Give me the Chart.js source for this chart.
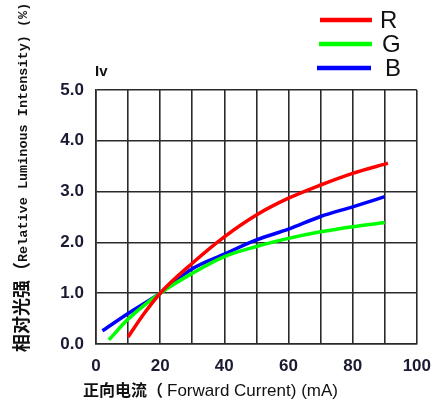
<!DOCTYPE html>
<html>
<head>
<meta charset="utf-8">
<script src="https://cdn.jsdelivr.net/npm/chart.js@4.4.1/dist/chart.umd.min.js"></script>
<style>
  html, body { margin: 0; padding: 0; background: #ffffff; }
  #wrap { width: 443px; height: 408px; }
</style>
</head>
<body>
<div id="wrap"><canvas id="c" width="443" height="408"></canvas></div>
<script>
// ---- Data ----
const seriesNames = ['R', 'G', 'B'];
const redX   = [10, 15, 20, 30, 40, 50, 60, 70, 80, 91];
const redY   = [0.14, 0.60, 1.00, 1.59, 2.11, 2.54, 2.87, 3.13, 3.36, 3.56];
const greenX = [4, 10, 20, 30, 40, 50, 60, 70, 80, 90];
const greenY = [0.08, 0.49, 1.00, 1.39, 1.72, 1.92, 2.08, 2.21, 2.31, 2.39];
const blueX  = [2, 10, 20, 30, 40, 50, 60, 70, 80, 90];
const blueY  = [0.26, 0.60, 1.00, 1.48, 1.77, 2.05, 2.26, 2.51, 2.70, 2.90];
const xTickLabels = ['0', '20', '40', '60', '80', '100'];
const yTickLabels = ['0.0', '1.0', '2.0', '3.0', '4.0', '5.0'];

const colors = ['#ff0000', '#00ff00', '#0000ff'];
const pts = (xs, ys) => xs.map((x, i) => ({ x: x, y: ys[i] }));

const textColor = '#1a1a33';

const decor = {
  id: 'decor',
  afterDraw(chart) {
    const ctx = chart.ctx;
    ctx.save();
    ctx.fillStyle = '#111111';
    // "Iv" unit label
    ctx.font = 'bold 15px "Liberation Sans", Arial, sans-serif';
    ctx.textAlign = 'left';
    ctx.textBaseline = 'middle';
    ctx.fillText('Iv', 95, 72);

    // Legend
    const legY = [20, 44, 68];
    const legX0 = [320, 319, 317];
    const legX1 = [372, 372, 371];
    const legTX = [380, 382, 385];
    ctx.font = '24px "Liberation Sans", Arial, sans-serif';
    for (let i = 0; i < 3; i++) {
      ctx.strokeStyle = colors[i];
      ctx.lineWidth = 4.5;
      ctx.beginPath();
      ctx.moveTo(legX0[i], legY[i]);
      ctx.lineTo(legX1[i], legY[i]);
      ctx.stroke();
      ctx.fillStyle = '#111111';
      ctx.textBaseline = 'middle';
      ctx.fillText(seriesNames[i], legTX[i], legY[i] + 1);
    }

    // X axis title
    ctx.textBaseline = 'alphabetic';
    ctx.fillStyle = '#111111';
    ctx.font = 'bold 16px "Noto Sans CJK SC", sans-serif';
    ctx.fillText('正向电流（', 83, 396);
    ctx.font = '17px "Liberation Sans", Arial, sans-serif';
    ctx.fillText('Forward Current) (mA)', 167, 396);

    // Y axis title (rotated)
    ctx.translate(28, 352);
    ctx.rotate(-Math.PI / 2);
    ctx.font = 'bold 18px "Noto Sans CJK SC", sans-serif';
    ctx.fillText('相对光强（', 0, 0);
    ctx.font = 'bold 13.5px "Liberation Mono", "DejaVu Sans Mono", monospace';
    ctx.fillText('Relative Luminous Intensity) (%)', 90, -1);
    ctx.restore();
  }
};

new Chart(document.getElementById('c'), {
  type: 'line',
  data: {
    datasets: [
      { label: seriesNames[0], data: pts(redX, redY), borderColor: colors[0] },
      { label: seriesNames[1], data: pts(greenX, greenY), borderColor: colors[1] },
      { label: seriesNames[2], data: pts(blueX, blueY), borderColor: colors[2] }
    ].map(d => Object.assign(d, {
      borderWidth: 3.5, pointRadius: 0, fill: false,
      cubicInterpolationMode: 'monotone', borderCapStyle: 'butt'
    }))
  },
  options: {
    responsive: false,
    animation: false,
    devicePixelRatio: 1,
    layout: { padding: { top: 90, right: 26, left: 0, bottom: 0 } },
    plugins: { legend: { display: false }, tooltip: { enabled: false } },
    scales: {
      x: {
        type: 'linear', min: 0, max: 100,
        afterFit(s) { s.height = 64; },
        grid: { color: '#2a2a2a', lineWidth: 1.6, drawTicks: false },
        border: { color: '#2a2a2a', width: 1.6 },
        ticks: {
          stepSize: 10, autoSkip: false, maxRotation: 0, padding: 12,
          color: textColor,
          font: { family: '"Liberation Sans", Arial, sans-serif', size: 17, weight: 'bold' },
          callback: v => (v % 20 === 0 ? xTickLabels[v / 20] : '')
        }
      },
      y: {
        type: 'linear', min: 0, max: 5,
        afterFit(s) { s.width = 96; },
        grid: { color: '#2a2a2a', lineWidth: 1.6, drawTicks: false },
        border: { color: '#2a2a2a', width: 1.6 },
        ticks: {
          stepSize: 1, autoSkip: false, padding: 12,
          color: textColor,
          font: { family: '"Liberation Sans", Arial, sans-serif', size: 17, weight: 'bold' },
          callback: v => yTickLabels[Math.round(v)]
        }
      }
    }
  },
  plugins: [decor]
});
</script>
</body>
</html>
